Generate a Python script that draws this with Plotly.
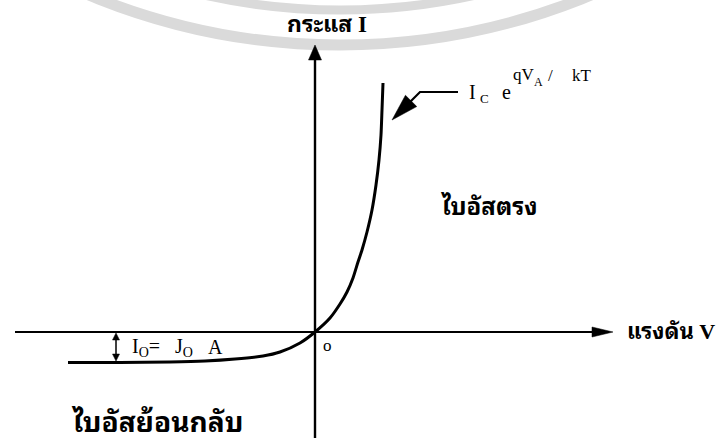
import math
import plotly.graph_objects as go

# Diode I-V characteristic (hand-drawn style), V and I in arbitrary units
voltage = [-2.47, -1.95, -1.45, -1.10, -0.80, -0.52, -0.35, -0.15, 0.00,
           0.15, 0.25, 0.32, 0.38, 0.43, 0.47, 0.52, 0.57, 0.61, 0.64,
           0.66, 0.67, 0.68]
current = [-0.305, -0.305, -0.30, -0.29, -0.27, -0.24, -0.20, -0.11, 0.00,
           0.14, 0.28, 0.40, 0.54, 0.70, 0.82, 1.00, 1.22, 1.47, 1.72,
           1.97, 2.22, 2.49]

# Saturation current level marked under the V axis
sat_current = -0.30

axis_label_v = "แรงดัน V"
axis_label_i = "กระแส I"
label_forward = "ไบอัสตรง"
label_reverse = "ไบอัสย้อนกลับ"
label_origin = "o"

X_RANGE = [-3.15, 4.10]
Y_RANGE = [-1.06, 3.32]

THAI = ("Liberation Serif, Noto Sans Thai Looped, Noto Serif Thai, "
        "Noto Sans Thai, Loma, Garuda, sans-serif")
SERIF = "Liberation Serif, DejaVu Serif, serif"

fig = go.Figure()

shapes = []


def tri(tip, direction, length, width, color="black"):
    """Filled triangular arrowhead with its point at `tip`."""
    dx, dy = direction
    n = math.hypot(dx, dy)
    ux, uy = dx / n, dy / n
    bx, by = tip[0] - ux * length, tip[1] - uy * length
    px_, py_ = -uy * width / 2, ux * width / 2
    path = (f"M {tip[0]} {tip[1]} L {bx + px_} {by + py_} "
            f"L {bx - px_} {by - py_} Z")
    return dict(type="path", path=path, xref="x", yref="y",
                fillcolor=color, line=dict(color=color, width=0.5))


# Faint circular seal in the background
seal_color = "#dadada"
seal_cx, seal_cy = 0.25, 9.42
for r, w in [(6.55, 11), (6.20, 9)]:
    shapes.append(dict(type="circle", xref="x", yref="y", layer="below",
                       x0=seal_cx - r, x1=seal_cx + r,
                       y0=seal_cy - r, y1=seal_cy + r,
                       line=dict(color=seal_color, width=w)))

# Coordinate axes
shapes.append(dict(type="line", xref="x", yref="y", x0=-3.00, y0=0, x1=2.85, y1=0,
                   line=dict(color="black", width=2.2)))
shapes.append(tri((2.98, 0.0), (1, 0), 0.21, 0.10))
shapes.append(dict(type="line", xref="x", yref="y", x0=0, y0=-1.10, x1=0, y1=2.75,
                   line=dict(color="black", width=2.4)))
shapes.append(tri((0.0, 2.87), (0, 1), 0.15, 0.13))

# Double arrow showing the saturation current
shapes.append(dict(type="line", xref="x", yref="y", x0=-1.99, y0=-0.04,
                   x1=-1.99, y1=sat_current + 0.04,
                   line=dict(color="black", width=1.5)))
shapes.append(tri((-1.99, -0.01), (0, 1), 0.07, 0.07))
shapes.append(tri((-1.99, sat_current + 0.01), (0, -1), 0.07, 0.07))

# Pointer to the exponential branch
shapes.append(dict(type="path", xref="x", yref="y",
                   path="M 1.43 2.40 L 1.05 2.40 L 0.95 2.30",
                   line=dict(color="black", width=2.2)))
shapes.append(tri((0.77, 2.12), (-1, -1), 0.27, 0.16))

fig.add_trace(go.Scatter(x=voltage, y=current, mode="lines",
                         line=dict(color="black", width=3, shape="spline",
                                   smoothing=0.6),
                         hoverinfo="skip"))


def txt(x, y, text, size, family=SERIF, xanchor="left", yanchor="middle"):
    return dict(x=x, y=y, text=text, xanchor=xanchor, yanchor=yanchor,
                xref="x", yref="y", showarrow=False,
                font=dict(family=family, size=size, color="black"))


annotations = [
    txt(0.12, 3.08, f"<b>{axis_label_i}</b>", 23, THAI, xanchor="center"),
    txt(3.10, 0.01, f"<b>{axis_label_v}</b>", 22, THAI),
    txt(1.23, 1.26, f"<b>{label_forward}</b>", 24, THAI),
    txt(-2.46, -0.89, f"<b>{label_reverse}</b>", 28, THAI),
    txt(0.12, -0.13, label_origin, 17, xanchor="center"),
    # I_O = J_O A
    txt(-1.85, -0.15, "I<sub>O</sub>=", 20),
    txt(-1.42, -0.15, "J<sub>O</sub>", 20),
    txt(-1.09, -0.15, "A", 20),
    # I_C e^{qV_A / kT}, set piece by piece
    txt(1.52, 2.40, "I", 20),
    txt(1.63, 2.34, "C", 13),
    txt(1.85, 2.40, "e", 20),
    txt(1.96, 2.58, "qV", 17),
    txt(2.17, 2.50, "A", 12),
    txt(2.31, 2.57, "/", 17),
    txt(2.55, 2.57, "kT", 17),
]

fig.update_layout(
    width=725, height=438,
    margin=dict(l=0, r=0, t=0, b=0),
    paper_bgcolor="white", plot_bgcolor="white",
    showlegend=False,
    shapes=shapes,
    annotations=annotations,
    xaxis=dict(range=X_RANGE, visible=False, fixedrange=True),
    yaxis=dict(range=Y_RANGE, visible=False, fixedrange=True),
)

fig.write_html("out.html")
